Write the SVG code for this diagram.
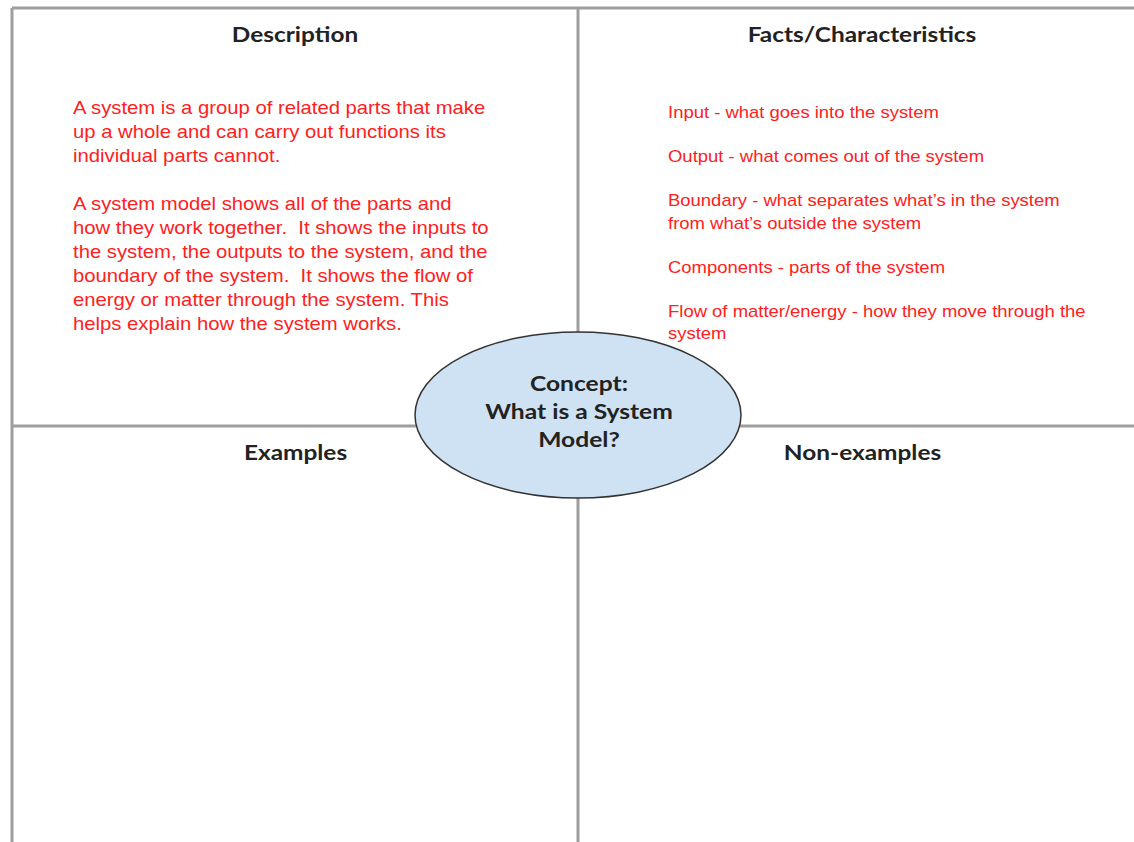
<svg xmlns="http://www.w3.org/2000/svg" width="1134" height="842" viewBox="0 0 1134 842">
<style>
.grid{stroke:#9e9e9e;stroke-width:3;fill:none}
.hdr{font-family:"Lato","Open Sans",sans-serif;font-size:20px;font-weight:bold;fill:#222;text-anchor:middle}
.desc{font-family:"Liberation Sans",Arial,sans-serif;font-size:18px;fill:#ff2020;white-space:pre}
.fact{font-family:"Liberation Sans",Arial,sans-serif;font-size:16px;fill:#ff2020;white-space:pre}
.concept{font-family:"Lato","Open Sans",sans-serif;font-size:20px;font-weight:bold;fill:#222;text-anchor:middle}
</style>
<rect width="1134" height="842" fill="#fff"/>
<g id="grid">
<line class="grid" x1="12" y1="8" x2="1134" y2="8"/>
<line class="grid" x1="12" y1="8" x2="12" y2="842"/>
<line class="grid" x1="578" y1="8" x2="578" y2="842"/>
<line class="grid" x1="12" y1="426" x2="1134" y2="426"/>
</g>
<g id="description">
<text class="hdr" x="0" y="42" transform="translate(295 0) scale(1.22 1)">Description</text>
<g transform="translate(73 0) scale(1.127 1)">
<text class="desc" x="0" y="114">A system is a group of related parts that make</text>
<text class="desc" x="0" y="138">up a whole and can carry out functions its</text>
<text class="desc" x="0" y="162">individual parts cannot.</text>
<text class="desc" x="0" y="210">A system model shows all of the parts and</text>
<text class="desc" x="0" y="234" xml:space="preserve">how they work together.  It shows the inputs to</text>
<text class="desc" x="0" y="258">the system, the outputs to the system, and the</text>
<text class="desc" x="0" y="282" xml:space="preserve">boundary of the system.  It shows the flow of</text>
<text class="desc" x="0" y="306">energy or matter through the system. This</text>
<text class="desc" x="0" y="330">helps explain how the system works.</text>
</g>
</g>
<g id="facts">
<text class="hdr" x="0" y="42" transform="translate(862 0) scale(1.22 1)">Facts/Characteristics</text>
<g transform="translate(668 0) scale(1.155 1)">
<text class="fact" x="0" y="118">Input - what goes into the system</text>
<text class="fact" x="0" y="162">Output - what comes out of the system</text>
<text class="fact" x="0" y="206">Boundary - what separates what’s in the system</text>
<text class="fact" x="0" y="229">from what’s outside the system</text>
<text class="fact" x="0" y="273">Components - parts of the system</text>
<text class="fact" x="0" y="317">Flow of matter/energy - how they move through the</text>
<text class="fact" x="0" y="339">system</text>
</g>
</g>
<g id="examples">
<text class="hdr" x="0" y="460" transform="translate(295.5 0) scale(1.22 1)">Examples</text>
</g>
<g id="nonexamples">
<text class="hdr" x="0" y="460" transform="translate(862.5 0) scale(1.22 1)">Non-examples</text>
</g>
<g id="concept">
<ellipse cx="578" cy="415" rx="163" ry="83" fill="#cfe2f3" stroke="#333" stroke-width="1.5"/>
<g transform="translate(579 0) scale(1.23 1)">
<text class="concept" x="0" y="391">Concept:</text>
<text class="concept" x="0" y="419">What is a System</text>
<text class="concept" x="0" y="447">Model?</text>
</g>
</g>
</svg>
